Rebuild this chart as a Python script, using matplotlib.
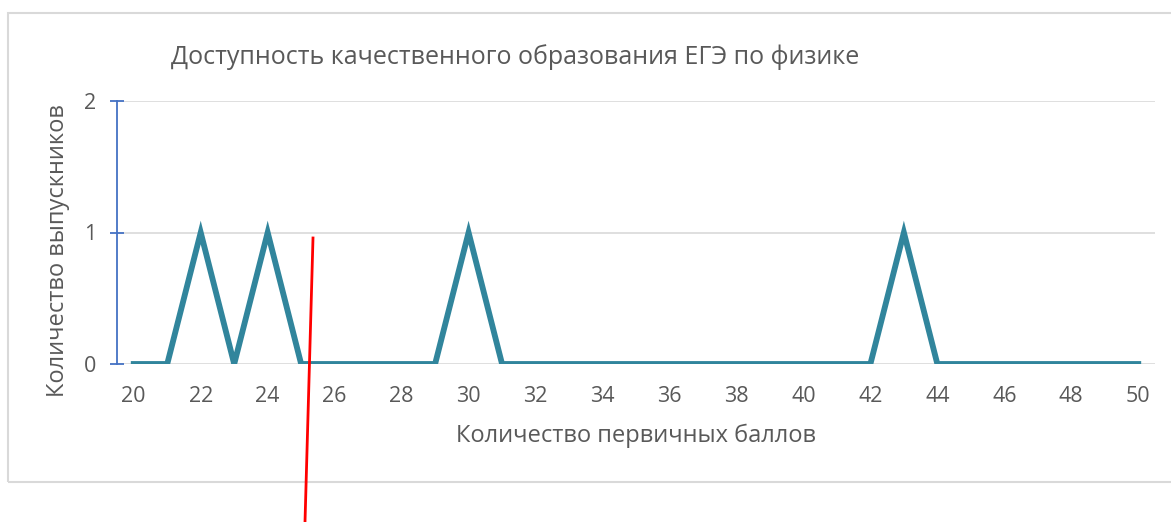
import matplotlib
matplotlib.use("Agg")
import matplotlib.pyplot as plt
from matplotlib.lines import Line2D
from matplotlib.patches import Rectangle

plt.rcParams["font.family"] = ["Open Sans", "DejaVu Sans"]

# ── data ──────────────────────────────────────────────────────────────────
scores = list(range(20, 51))
graduates = [0, 0, 1, 0, 1, 0, 0, 0, 0, 0, 1, 0, 0, 0, 0, 0,
             0, 0, 0, 0, 0, 0, 0, 1, 0, 0, 0, 0, 0, 0, 0]
x_ticks = list(range(20, 51, 2))
y_ticks = [0, 1, 2]

title = "Доступность качественного образования ЕГЭ по физике"
x_label = "Количество первичных баллов"
y_label = "Количество выпускников"

text_color = "#595959"
line_color = "#31859C"
axis_blue = "#4472C4"
grid_gray = "#D9D9D9"

W, H = 1171, 522
fig = plt.figure(figsize=(W / 100, H / 100), dpi=100)
fig.patch.set_facecolor("white")

# chart frame (right edge lies off the picture)
fig.add_artist(Rectangle((8 / W, 1 - 482 / H), 1200 / W, (482 - 13) / H,
                         transform=fig.transFigure, fill=False,
                         edgecolor=grid_gray, linewidth=1.5))

ax = fig.add_axes([117 / W, 1 - 364 / H, (1155 - 117) / W, (364 - 101) / H])
ax.plot(scores, graduates, color=line_color, linewidth=4.2,
        solid_joinstyle="miter", zorder=3)

ax.set_xlim(19.5, 50.5)
ax.set_ylim(0, 2)
ax.set_xticks(x_ticks)
ax.set_yticks(y_ticks)
ax.grid(axis="y", color=grid_gray, linewidth=1.2, zorder=0)

for side in ["top", "right", "bottom"]:
    ax.spines[side].set_visible(False)
ax.spines["left"].set_color(axis_blue)
ax.spines["left"].set_linewidth(1.3)

ax.tick_params(axis="x", length=0, pad=16, labelsize=15.5, labelcolor=text_color)
ax.tick_params(axis="y", direction="inout", length=10, width=1.3,
               color=axis_blue, pad=10, labelsize=15.5, labelcolor=text_color)

ax.set_xlabel(x_label, fontsize=17, color=text_color, labelpad=12)
ax.set_ylabel(y_label, fontsize=17, color=text_color)
ax.yaxis.set_label_coords(-0.045, 0.43)

fig.text(515 / W, 1 - 57 / H, title, fontsize=18, color=text_color,
         ha="center", va="center")

# red hand-drawn marker line over the chart
fig.add_artist(Line2D([313 / W, 305 / W], [1 - 238 / H, 1 - 522 / H],
                      transform=fig.transFigure, color="red", linewidth=2))

fig.savefig("out.png", dpi=100)
